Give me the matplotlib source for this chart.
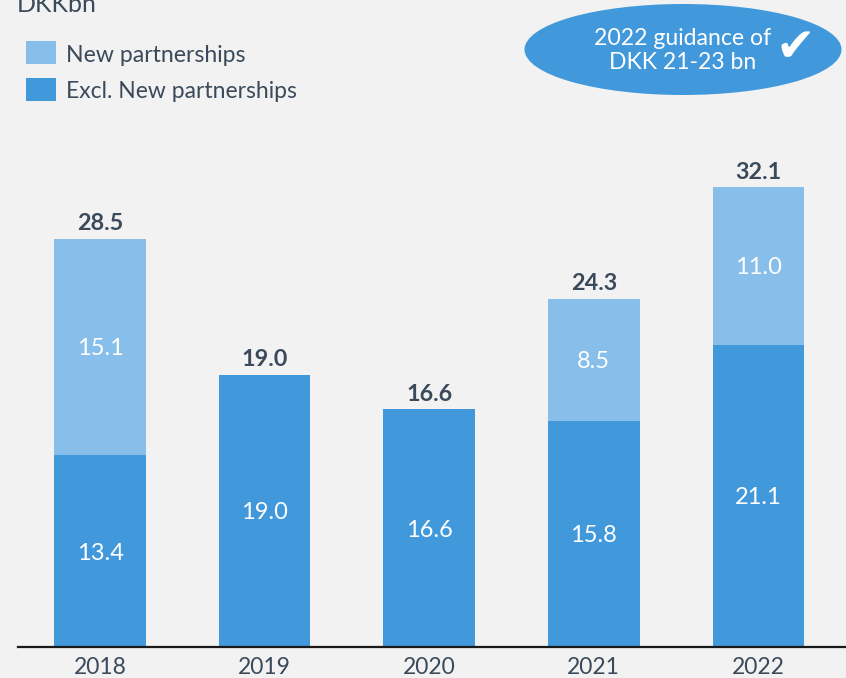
import matplotlib
matplotlib.use("Agg")
import matplotlib.pyplot as plt
from matplotlib.patches import Ellipse, Rectangle

years = ["2018", "2019", "2020", "2021", "2022"]
excl_new = [13.4, 19.0, 16.6, 15.8, 21.1]
new_partnerships = [15.1, 0, 0, 8.5, 11.0]
totals = [28.5, 19.0, 16.6, 24.3, 32.1]

BG = "#f2f2f2"
DARK_BLUE = "#4199dc"
LIGHT_BLUE = "#88beea"
TEXT = "#3b4a5a"

plt.rcParams["font.family"] = ["Lato", "DejaVu Sans"]

W, H = 846, 678
fig = plt.figure(figsize=(W / 100, H / 100), dpi=100, facecolor=BG)

# axes spans the baseline, pixel coords from the reference
ax = fig.add_axes([18 / W, (H - 647) / H, (W - 18) / W, 647 / H])
ax.set_facecolor(BG)
ax.set_ylim(0, 647 / 14.33)
ax.set_xlim(-82 / 164.6, (W - 18 - 82) / 164.6)

x = list(range(len(years)))
ax.bar(x, excl_new, width=0.556, color=DARK_BLUE)
ax.bar(x, new_partnerships, width=0.556, bottom=excl_new, color=LIGHT_BLUE)

# labels sit about 2px under the segment middle in the reference
for i in x:
    ax.annotate(f"{excl_new[i]:.1f}", (i, excl_new[i] / 2), xytext=(0, -1.5),
                textcoords="offset points", color="white", fontsize=17,
                ha="center", va="center")
    if new_partnerships[i] > 0:
        ax.annotate(f"{new_partnerships[i]:.1f}", (i, excl_new[i] + new_partnerships[i] / 2),
                    xytext=(0, -1.5), textcoords="offset points", color="white",
                    fontsize=17, ha="center", va="center")
    ax.text(i, totals[i] + 0.3, f"{totals[i]:.1f}", color=TEXT, fontsize=16.8,
            fontweight="bold", ha="center", va="bottom")

for s in ["top", "left", "right"]:
    ax.spines[s].set_visible(False)
ax.spines["bottom"].set_color("#1a1a1a")
ax.spines["bottom"].set_linewidth(1.6)
ax.set_yticks([])
ax.set_xticks(x)
ax.set_xticklabels(years, fontsize=16.5, color=TEXT)
ax.tick_params(axis="x", length=0, pad=7)

# overlay in pixel coordinates for legend and callout
ov = fig.add_axes([0, 0, 1, 1])
ov.set_xlim(0, W)
ov.set_ylim(H, 0)
ov.axis("off")
ov.patch.set_alpha(0)

ov.text(17, 4, "DKKbn", fontsize=18, color=TEXT, va="center", ha="left")
ov.add_patch(Rectangle((26, 41), 30, 23, color=LIGHT_BLUE, lw=0))
ov.add_patch(Rectangle((26, 78), 30, 23, color=DARK_BLUE, lw=0))
ov.text(66, 55, "New partnerships", fontsize=16.6, color=TEXT, va="center", ha="left")
ov.text(66, 91, "Excl. New partnerships", fontsize=16.5, color=TEXT, va="center", ha="left")

ov.add_patch(Ellipse((683, 49.5), 317, 91, color=DARK_BLUE, lw=0))
ov.text(683, 50.5, "2022 guidance of\nDKK 21-23 bn", fontsize=16.6, color="white",
        ha="center", va="center", linespacing=1.2)
ov.text(795, 49, "\u2714", fontsize=34, color="white", ha="center", va="center",
        family=["DejaVu Sans"])

fig.savefig("out.png", dpi=100, facecolor=BG)
